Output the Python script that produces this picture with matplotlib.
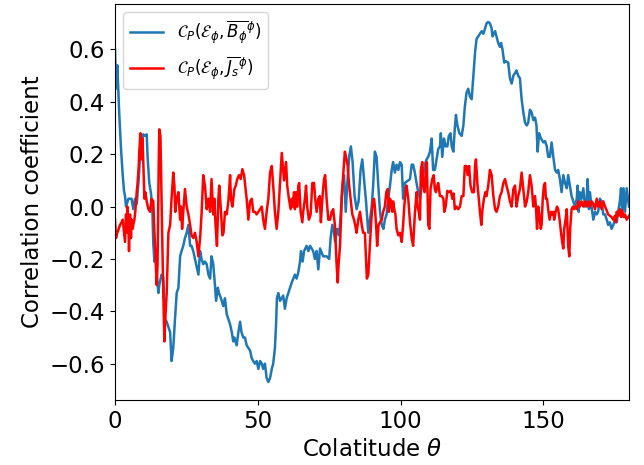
import numpy as np
import matplotlib
matplotlib.use('Agg')
import matplotlib.pyplot as plt

# correlation of E_phi with mean B_phi (blue)
theta_B = [0.0, 0.35, 0.8, 1.5, 2.1, 2.7, 3.15, 3.5, 3.85, 4.7, 5.8, 6.4, 7.0, 7.6, 8.2, 8.75, 9.3, 9.9,
           10.5, 11.1, 11.4, 12.0, 12.6, 13.1, 13.4, 13.8, 14.1, 14.6, 15.2, 15.5, 16.3, 16.9, 17.5, 18.1,
           18.7, 19.3, 19.8, 20.4, 21.0, 21.6, 22.2, 22.8, 23.3, 23.9, 24.5, 25.1, 25.7, 26.3, 26.8, 27.4,
           28.0, 29.2, 29.8, 30.3, 30.9, 31.5, 32.1, 32.7, 33.3, 33.8, 34.4, 35.0, 35.4, 36.0, 36.4, 37.1,
           37.9, 38.5, 39.1, 39.7, 40.3, 40.9, 41.4, 41.8, 42.6, 43.2, 43.8, 44.3, 44.9, 45.5, 46.1, 46.7,
           47.3, 47.9, 48.4, 49.0, 49.6, 50.2, 50.8, 51.4, 51.9, 52.5, 53.1, 53.7, 54.3, 54.9, 55.4, 56.0,
           56.4, 56.7, 57.2, 57.8, 58.9, 59.5, 60.1, 60.7, 61.9, 63.0, 63.6, 64.2, 64.8, 65.1, 65.7, 66.2,
           67.1, 67.7, 68.3, 69.4, 70.0, 70.6, 71.2, 71.8, 72.9, 74.1, 75.0, 75.5, 76.1, 76.7, 77.1, 77.8,
           78.5, 79.1, 79.6, 80.2, 80.8, 81.3, 82.0, 82.6, 83.2, 83.9, 84.6, 85.3, 86.0, 86.6, 87.2, 87.9,
           88.7, 89.3, 89.9, 90.4, 91.0, 91.6, 92.2, 92.8, 93.4, 94.0, 94.5, 95.1, 95.7, 96.3, 96.9, 97.4,
           98.0, 98.6, 99.2, 99.8, 100.4, 100.9, 101.5, 102.7, 103.3, 103.9, 104.4, 105.0, 105.6, 106.2,
           106.8, 107.4, 107.9, 108.5, 109.1, 109.7, 110.3, 110.9, 111.4, 112.0, 112.6, 113.2, 113.8,
           114.1, 114.6, 115.2, 115.8, 116.4, 116.9, 117.5, 117.9, 118.5, 119.0, 119.4, 119.9, 120.6,
           121.4, 122.0, 122.5, 123.1, 123.7, 124.3, 124.9, 125.5, 126.1, 126.6, 127.2, 127.8, 128.4,
           129.0, 129.6, 130.1, 130.7, 131.3, 131.9, 132.2, 132.7, 133.1, 133.6, 134.2, 134.8, 135.2,
           135.7, 136.3, 136.9, 137.7, 138.3, 138.9, 139.5, 140.1, 140.6, 141.2, 141.8, 142.4, 143.0,
           143.6, 144.2, 144.7, 145.3, 145.9, 146.5, 147.1, 147.6, 148.0, 148.5, 149.2, 150.0, 150.6,
           151.2, 151.7, 152.3, 152.9, 153.5, 154.1, 154.7, 155.2, 155.8, 156.4, 157.0, 157.6, 158.2,
           158.7, 159.3, 159.9, 160.5, 161.1, 161.7, 162.0, 162.4, 162.8, 163.4, 164.0, 164.6, 165.2,
           165.5, 166.0, 166.3, 166.9, 167.5, 168.1, 168.7, 169.2, 169.8, 170.4, 171.0, 171.6, 172.2,
           172.7, 173.3, 173.9, 174.5, 175.1, 175.7, 176.2, 176.8, 177.2, 177.6, 178.1, 178.6, 179.2, 180.0]
corr_B = [0.60, 0.45, 0.54, 0.35, 0.22, 0.12, 0.06, 0.04, 0.00, 0.03, 0.03, -0.01, 0.03, 0.01, 0.09, 0.19, 0.245, 0.276,
          0.27, 0.276, 0.19, 0.09, 0.05, -0.02, -0.14, -0.21, -0.16, -0.26, -0.33, -0.30, -0.26, -0.27, -0.43, -0.44,
          -0.46, -0.48, -0.59, -0.54, -0.43, -0.33, -0.31, -0.19, -0.17, -0.15, -0.12, -0.10, -0.07, -0.15, -0.15, -0.17,
          -0.20, -0.26, -0.17, -0.20, -0.22, -0.21, -0.22, -0.26, -0.275, -0.19, -0.22, -0.30, -0.36, -0.31, -0.33, -0.35,
          -0.38, -0.35, -0.41, -0.43, -0.45, -0.48, -0.515, -0.50, -0.53, -0.48, -0.44, -0.48, -0.50, -0.50, -0.53, -0.54,
          -0.55, -0.58, -0.59, -0.60, -0.59, -0.62, -0.59, -0.60, -0.62, -0.60, -0.655, -0.67, -0.655, -0.62, -0.60, -0.54,
          -0.45, -0.35, -0.33, -0.36, -0.34, -0.39, -0.35, -0.33, -0.29, -0.26, -0.275, -0.25, -0.21, -0.17, -0.21, -0.17,
          -0.15, -0.17, -0.15, -0.17, -0.20, -0.17, -0.24, -0.16, -0.19, -0.19, -0.20, -0.12, -0.07, -0.10, -0.135, -0.085,
          -0.11, -0.02, 0.08, 0.12, -0.02, 0.08, 0.19, 0.23, 0.17, 0.04, -0.01, 0.02, 0.14, 0.18, 0.105, 0.02,
          -0.10, -0.05, 0.00, 0.08, 0.21, 0.19, 0.08, -0.02, -0.07, -0.085, -0.05, -0.03, 0.03, 0.08, 0.14, 0.17,
          0.13, 0.16, 0.14, 0.17, 0.16, 0.03, 0.09, 0.10, 0.105, 0.16, 0.16, 0.13, 0.09, 0.055,
          0.03, 0.08, 0.12, 0.16, 0.18, 0.19, 0.21, 0.26, 0.14, 0.14, 0.18, 0.22, 0.23,
          0.28, 0.19, 0.26, 0.23, 0.23, 0.27, 0.28, 0.23, 0.21, 0.30, 0.35, 0.31, 0.28,
          0.27, 0.31, 0.38, 0.435, 0.45, 0.42, 0.41, 0.50, 0.59, 0.64, 0.65, 0.66, 0.67,
          0.66, 0.68, 0.70, 0.705, 0.70, 0.68, 0.65, 0.66, 0.67, 0.65, 0.625, 0.61, 0.625,
          0.60, 0.55, 0.555, 0.55, 0.49, 0.47, 0.50, 0.51, 0.52, 0.50, 0.49, 0.41, 0.36,
          0.32, 0.31, 0.32, 0.37, 0.36, 0.33, 0.34, 0.31, 0.21, 0.28, 0.26, 0.245, 0.25,
          0.23, 0.19, 0.19, 0.245, 0.19, 0.14, 0.13, 0.14, 0.105, 0.055, 0.12, 0.09, 0.07,
          0.12, 0.08, 0.04, 0.02, 0.00, 0.03, 0.08, -0.02, 0.055, 0.03, 0.07, 0.00, 0.03,
          0.105, -0.01, 0.055, 0.00, -0.05, -0.02, -0.03, -0.02, 0.03, 0.02, -0.03, -0.03, -0.05,
          -0.07, -0.06, -0.085, -0.07, -0.05, -0.06, -0.02, 0.02, 0.07, -0.02, 0.07, -0.02, 0.07, 0.00]

# correlation of E_phi with mean J_s (red)
theta_J = [0.0, 0.35, 0.8, 1.3, 1.75, 2.3, 2.7, 3.15, 3.5, 3.85, 4.1, 4.3, 4.7, 4.9, 5.25, 5.6, 5.8, 6.2, 6.4,
           6.8, 7.1, 7.6, 7.9, 8.3, 8.5, 8.9, 9.2, 9.6, 9.9, 10.3, 10.6, 11.1, 11.7, 12.3, 12.8, 13.4, 13.8,
           14.1, 14.6, 14.9, 15.3, 15.5, 15.9, 16.1, 16.5, 16.9, 17.3, 17.6, 18.1, 18.7, 19.3, 19.8, 20.4,
           20.8, 21.1, 21.6, 22.2, 22.8, 23.1, 23.5, 23.9, 24.5, 25.1, 25.7, 26.3, 26.8, 27.4, 28.0, 28.6,
           29.2, 29.8, 30.3, 30.9, 31.5, 32.1, 32.7, 33.3, 33.8, 34.4, 34.8, 35.2, 35.7, 36.2, 36.5, 37.0,
           37.6, 38.0, 38.5, 39.1, 39.7, 40.3, 40.6, 41.1, 41.8, 42.3, 42.8, 43.4, 44.0, 44.6, 45.2, 45.5,
           46.1, 46.7, 47.3, 47.9, 48.4, 49.0, 49.6, 50.2, 50.8, 51.4, 51.9, 52.5, 53.1, 53.7, 54.3, 54.9,
           55.4, 56.0, 56.6, 57.2, 57.8, 58.4, 59.2, 59.9, 60.3, 60.9, 61.5, 61.9, 62.2, 62.7, 63.0, 63.4,
           63.8, 64.2, 64.5, 65.0, 65.6, 65.9, 66.5, 66.9, 67.3, 67.9, 68.5, 69.1, 69.7, 70.1, 70.6, 71.2,
           71.7, 72.1, 72.6, 73.2, 73.6, 74.1, 74.7, 75.3, 75.9, 76.4, 77.0, 77.6, 78.0, 78.3, 78.8, 79.4,
           79.9, 80.5, 81.1, 81.5, 81.9, 82.5, 83.1, 83.7, 84.1, 84.6, 85.2, 85.8, 86.4, 86.9, 87.5, 88.2,
           88.7, 89.0, 89.5, 89.9, 90.3, 90.7, 91.0, 91.5, 91.8, 92.3, 92.8, 93.4, 93.9, 94.5, 95.0, 95.5,
           95.9, 96.3, 96.6, 97.1, 97.4, 97.8, 98.2, 98.6, 99.2, 99.8, 100.4, 100.9, 101.3, 101.8, 102.1,
           102.7, 103.3, 103.9, 104.4, 105.0, 105.6, 106.0, 106.4, 106.8, 107.1, 107.6, 107.9, 108.4,
           108.8, 109.2, 109.7, 110.1, 110.5, 111.1, 111.6, 112.0, 112.4, 112.9, 113.2, 113.8, 114.4,
           115.0, 115.3, 115.8, 116.4, 116.9, 117.6, 118.1, 118.6, 119.0, 119.6, 120.2, 120.8, 121.4,
           122.0, 122.5, 123.1, 123.5, 124.0, 124.5, 125.1, 125.7, 126.1, 126.4, 126.9, 127.3, 127.8,
           128.3, 128.7, 129.2, 129.7, 130.1, 130.7, 131.3, 131.9, 132.5, 133.1, 133.6, 134.2, 134.8,
           135.4, 136.0, 136.6, 137.1, 137.7, 138.3, 138.9, 139.5, 140.1, 140.6, 141.2, 141.8, 142.4,
           143.0, 143.6, 144.2, 144.7, 145.3, 145.9, 146.5, 147.1, 147.4, 147.8, 148.2, 148.6, 149.1,
           149.4, 149.8, 150.2, 150.6, 150.9, 151.3, 151.7, 152.2, 152.7, 153.1, 153.5, 153.8, 154.3,
           154.8, 155.2, 155.7, 156.2, 156.6, 157.0, 157.3, 157.8, 158.2, 158.7, 159.1, 159.4, 159.9,
           160.4, 160.8, 161.3, 161.8, 162.2, 162.8, 163.4, 164.0, 164.6, 165.2, 165.8, 166.3, 166.9,
           167.5, 168.1, 168.7, 169.2, 169.8, 170.4, 171.0, 171.6, 172.2, 172.7, 173.3, 173.9, 174.5,
           175.1, 175.4, 175.7, 176.2, 176.8, 177.2, 177.6, 178.1, 178.6, 179.2, 180.0]
corr_J = [-0.05, -0.12, -0.10, -0.085, -0.07, -0.06, -0.05, -0.10, -0.135, -0.03, -0.10, 0.00, -0.07, -0.17, -0.03, -0.12, -0.05, -0.085, -0.07,
          -0.05, -0.02, 0.055, 0.09, 0.155, 0.21, 0.28, 0.18, 0.26, 0.17, 0.03, 0.055, 0.02, -0.01, -0.02, 0.03, 0.02, -0.10,
          -0.17, -0.30, -0.22, 0.155, 0.295, 0.27, 0.155, -0.10, -0.33, -0.515, -0.43, -0.33, -0.10, -0.07, 0.03, 0.13,
          0.08, -0.02, 0.03, 0.055, -0.05, 0.00, -0.085, -0.02, 0.067, 0.00, -0.03, -0.07, -0.11, -0.12, -0.10, -0.135,
          -0.19, -0.12, -0.03, 0.12, 0.08, -0.01, 0.03, -0.02, 0.105, -0.03, 0.03, -0.07, -0.15, 0.03, 0.08, 0.00,
          -0.11, -0.10, -0.02, -0.03, 0.02, 0.12, 0.03, 0.00, 0.067, 0.08, 0.105, 0.12, 0.105, 0.143, 0.12, 0.09,
          0.03, -0.05, 0.02, 0.03, -0.02, -0.02, -0.03, -0.02, -0.01, 0.00, -0.05, -0.085, -0.02, 0.03, 0.13, 0.155,
          0.08, -0.02, -0.085, -0.02, 0.09, 0.205, 0.10, 0.17, 0.08, 0.03, -0.01, 0.03, 0.00, 0.055, -0.01, 0.055,
          0.00, 0.08, 0.09, -0.02, -0.06, -0.02, 0.03, 0.08, 0.00, -0.05, -0.03, 0.09, 0.09, 0.03, -0.02, 0.03,
          0.04, -0.06, 0.03, 0.105, 0.12, 0.03, -0.05, -0.05, -0.02, -0.01, -0.07, -0.22, -0.29, -0.22, -0.15, 0.03,
          0.12, 0.21, 0.18, 0.155, 0.09, 0.03, -0.03, -0.05, -0.07, -0.10, -0.05, -0.02, -0.07, -0.10, -0.10, -0.275,
          -0.26, -0.20, -0.10, -0.03, 0.02, 0.03, 0.00, -0.085, -0.15, -0.07, -0.06, -0.05, -0.02, 0.00, 0.055, 0.067,
          -0.02, 0.03, 0.02, -0.02, 0.02, -0.01, -0.03, -0.085, -0.11, -0.10, -0.135, -0.07, 0.00, 0.067, 0.08,
          0.03, -0.06, -0.12, -0.15, -0.03, 0.055, 0.00, -0.02, -0.05, 0.14, 0.17, 0.08, 0.055,
          0.13, 0.17, -0.07, -0.085, 0.067, 0.105, 0.12, 0.067, 0.055, 0.08, 0.09, 0.04, 0.04,
          0.03, -0.02, 0.00, 0.06, 0.055, 0.06, 0.03, 0.05, -0.01, 0.00, -0.01, 0.00, 0.04,
          0.04, 0.155, 0.155, 0.12, 0.155, 0.08, 0.055, 0.055, 0.155, 0.18, 0.09, 0.04, -0.02,
          -0.07, -0.01, 0.03, 0.055, 0.04, 0.08, 0.14, 0.12, 0.04, -0.01, -0.02, 0.00, 0.04,
          0.055, 0.09, 0.105, 0.08, 0.055, 0.02, 0.00, 0.067, 0.08, 0.00, 0.04, 0.067, 0.13,
          0.067, 0.00, 0.02, 0.055, 0.12, 0.08, 0.00, 0.04, 0.00, -0.085, 0.00, -0.03, -0.085,
          -0.07, 0.03, 0.08, 0.09, 0.03, 0.03, -0.01, -0.05, -0.02, -0.03, -0.02, -0.05, -0.02,
          0.00, -0.01, -0.05, -0.10, -0.135, -0.16, -0.085, -0.05, -0.01, -0.15, -0.19, -0.085, -0.01,
          0.00, -0.01, 0.00, -0.01, 0.02, 0.00, 0.02, 0.00, 0.02, 0.00, 0.02, 0.00, 0.02,
          0.01, -0.01, 0.03, 0.00, 0.02, -0.01, 0.02, 0.00, -0.015, -0.03, -0.035, -0.04, -0.05,
          -0.035, -0.06, -0.02, -0.035, -0.01, -0.04, -0.015, -0.04, -0.03, -0.05, -0.035]

fig, ax = plt.subplots(figsize=(6.44, 4.65), dpi=100)
fig.subplots_adjust(left=0.1786, right=0.9767, top=0.9914, bottom=0.1398)

ax.plot(theta_B, corr_B, color='tab:blue', lw=1.8,
        label=r'$\mathcal{C}_P(\mathcal{E}_\phi, \overline{B_\phi}^\phi)$')
ax.plot(theta_J, corr_J, color='red', lw=1.8,
        label=r'$\mathcal{C}_P(\mathcal{E}_\phi, \overline{J_s}^\phi)$')

ax.set_xlim(0, 180)
ax.set_xlabel(r'Colatitude $\theta$', fontsize=16.5)
ax.set_ylabel('Correlation coefficient', fontsize=16.5)
ax.tick_params(labelsize=16.5)
ax.legend(loc='upper left', fontsize=12)

fig.savefig('out.png')
